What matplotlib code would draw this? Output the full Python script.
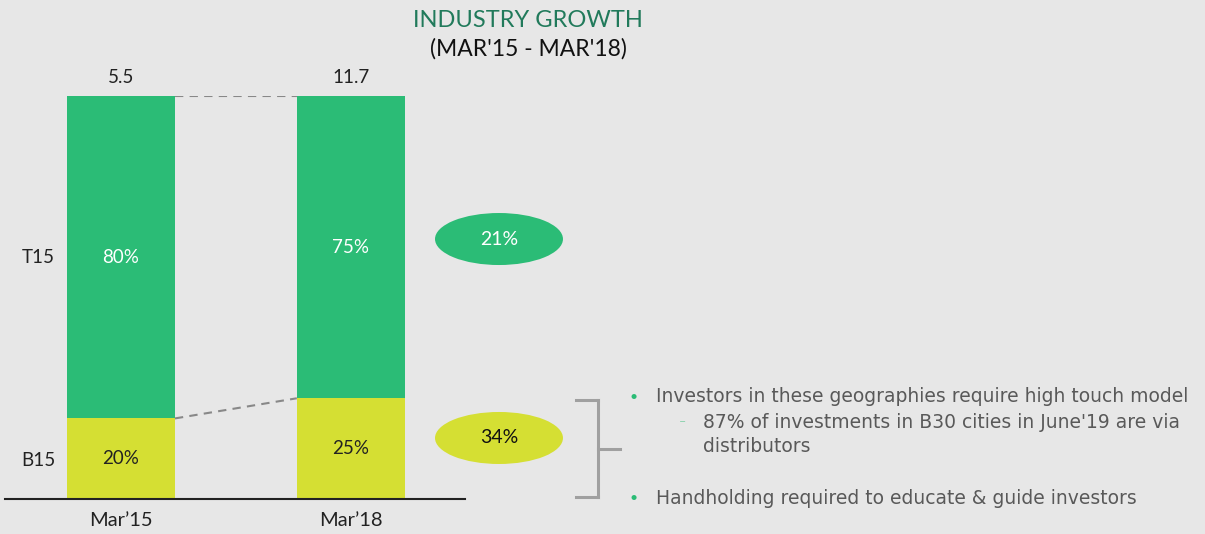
import matplotlib.pyplot as plt
from matplotlib.patches import Ellipse
from matplotlib.lines import Line2D

# data
periods = ["Mar’15", "Mar’18"]
totals = [5.5, 11.7]
t15_share = [80, 75]
b15_share = [20, 25]
segments = ["T15", "B15"]
cagr = [21, 34]

bg = "#e7e7e7"
green = "#2bbc76"
yellow = "#d5df33"
grey_txt = "#595959"

plt.rcParams["font.family"] = ["Lato", "DejaVu Sans"]

fig = plt.figure(figsize=(12.05, 5.34), dpi=100, facecolor=bg)
ax = fig.add_axes([0.00415, 0.0655, 0.3817, 0.7547])
ax.set_facecolor(bg)

x = [0, 1]
w = 0.47
ax.bar(x, b15_share, width=w, color=yellow)
ax.bar(x, t15_share, width=w, bottom=b15_share, color=green)

for i in range(len(x)):
    ax.text(x[i], b15_share[i] / 2, f"{b15_share[i]}%", ha="center", va="center",
            fontsize=13.5, color="#222222")
    ax.text(x[i], b15_share[i] + t15_share[i] / 2, f"{t15_share[i]}%", ha="center",
            va="center", fontsize=13.5, color="white")
    ax.annotate(f"{totals[i]}", (x[i], 100), xytext=(0, 13), textcoords="offset points",
                ha="center", va="center", fontsize=13.5, color="#222222")

# connectors
tops = [b + t for b, t in zip(b15_share, t15_share)]
ax.plot([x[0] + w / 2, x[1] - w / 2], [tops[0], tops[1]], ls=(0, (4, 3)), color="#888888", lw=1.5)
ax.plot([x[0] + w / 2, x[1] - w / 2], [b15_share[0], b15_share[1]], ls=(0, (4, 3)),
        color="#888888", lw=1.5)

# segment labels
ax.text(-0.36, (b15_share[0] + tops[0]) / 2, segments[0], ha="center", va="center", fontsize=13.5,
        color="#222222")
ax.text(-0.36, b15_share[0] / 2 - 0.5, segments[1], ha="center", va="center", fontsize=13.5,
        color="#222222")

ax.set_xlim(-0.504, 1.496)
ax.set_ylim(0, 100)
ax.set_xticks(x)
ax.set_xticklabels(periods, fontsize=14.5, color="#222222")
ax.tick_params(axis="x", length=0, pad=9)
ax.set_yticks([])
for s in ["top", "left", "right"]:
    ax.spines[s].set_visible(False)
ax.spines["bottom"].set_linewidth(1.5)
ax.spines["bottom"].set_color("#222222")

# title
fig.text(0.4382, 0.9625, "INDUSTRY GROWTH", ha="center", va="center", fontsize=17, color="#217a5b")
fig.text(0.4382, 0.908, "(MAR'15 - MAR'18)", ha="center", va="center", fontsize=16.5, color="#111111")

# CAGR ellipses
ell_y = [0.5524, 0.1798]
ell_col = [green, yellow]
txt_col = ["white", "#111111"]
for i in range(2):
    e = Ellipse((0.4141, ell_y[i]), 0.1062, 0.0974, transform=fig.transFigure,
                facecolor=ell_col[i], edgecolor="none")
    fig.add_artist(e)
    fig.text(0.4141, ell_y[i], f"{cagr[i]}%", ha="center", va="center", fontsize=14,
             color=txt_col[i])

# bracket
bc = "#a0a0a0"
for xs, ys in [([0.478, 0.4963], [0.2509, 0.2509]),
               ([0.4963, 0.4963], [0.2509, 0.0693]),
               ([0.478, 0.4963], [0.0693, 0.0693]),
               ([0.4963, 0.5145], [0.1592, 0.1592])]:
    fig.add_artist(Line2D(xs, ys, transform=fig.transFigure, color=bc, lw=2.2))

# bullets
bf = ["DejaVu Sans"]
fs = 13.5
fig.text(0.526, 0.2566, "•", ha="center", va="center", fontsize=10, color=green)
fig.text(0.5444, 0.2566, "Investors in these geographies require high touch model", ha="left",
         va="center", fontsize=fs, color=grey_txt, family=bf)
fig.text(0.5668, 0.2097, "–", ha="center", va="center", fontsize=9, color="#8fd3b0")
fig.text(0.5834, 0.2097, "87% of investments in B30 cities in June'19 are via", ha="left",
         va="center", fontsize=fs, color=grey_txt, family=bf)
fig.text(0.5834, 0.163, "distributors", ha="left", va="center", fontsize=fs, color=grey_txt,
         family=bf)
fig.text(0.526, 0.0674, "•", ha="center", va="center", fontsize=10, color=green)
fig.text(0.5444, 0.0674, "Handholding required to educate & guide investors", ha="left",
         va="center", fontsize=fs, color=grey_txt, family=bf)

fig.savefig("out.png", dpi=100, facecolor=bg)
